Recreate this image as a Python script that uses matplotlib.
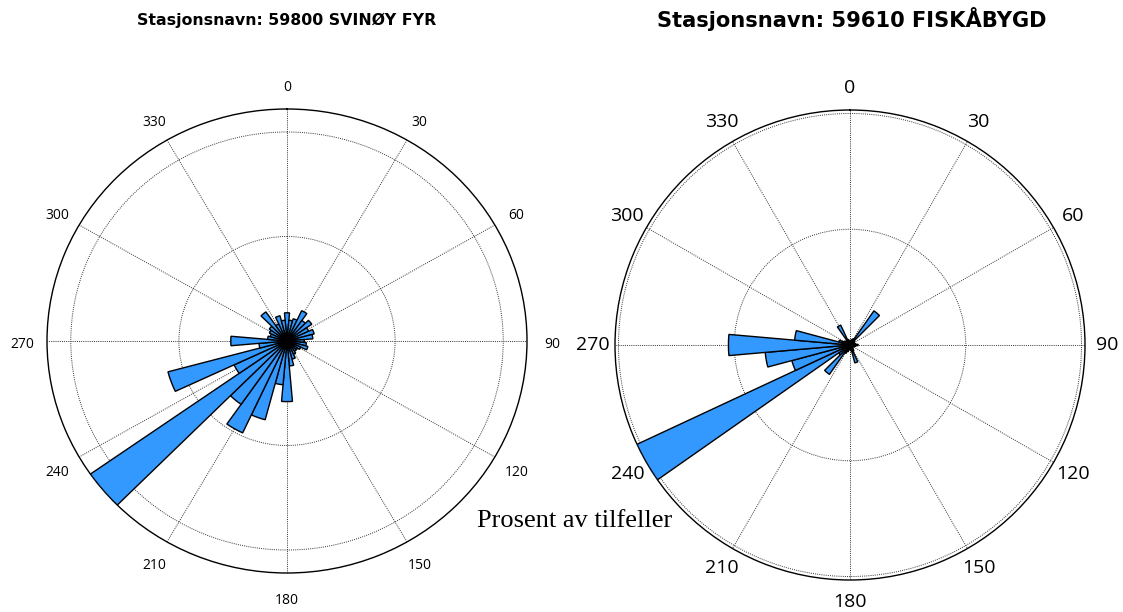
import numpy as np
import matplotlib
matplotlib.use("Agg")
import matplotlib.pyplot as plt
from matplotlib.transforms import offset_copy

# Wind direction sectors (degrees, bin centres) and share of observations (%)
directions = np.arange(0, 360, 10)

svinoy_pct = [1.35, 1.0, 1.1, 1.6, 1.2, 1.4, 1.1, 1.3, 1.2, 0.8,
              0.9, 1.0, 0.7, 0.6, 0.6, 0.7, 0.9, 1.2, 2.9, 2.1,
              3.9, 4.85, 3.7, 11.1, 2.7, 5.7, 1.3, 2.6, 0.9, 0.8,
              0.9, 1.0, 1.7, 0.9, 1.25, 1.0]

fiskaabygd_pct = [0.3, 0.4, 0.5, 0.6, 3.6, 0.5, 0.4, 0.4, 0.5, 0.7,
                  0.5, 0.4, 0.3, 0.3, 0.4, 0.6, 1.6, 0.5, 0.4, 0.4,
                  0.6, 0.8, 3.1, 1.2, 20.3, 5.2, 7.35, 10.5, 4.8, 1.0,
                  0.6, 0.5, 0.4, 1.9, 0.5, 0.4]

title_left = "Stasjonsnavn: 59800 SVINØY FYR"
title_right = "Stasjonsnavn: 59610 FISKÅBYGD"
angle_ticks = np.arange(0, 360, 30)
angle_labels = [str(a) for a in angle_ticks]
rings_left = [5, 10]
rings_right = [10, 20]
axis_label = "Prosent av tilfeller"

BAR_COLOR = "#3399ff"

W, H = 1123, 612
fig = plt.figure(figsize=(W / 100, H / 100), dpi=100)


def rose(rect, values, rings, label_size, label_r, label_dy):
    ax = fig.add_axes(rect, projection="polar")
    ax.set_aspect("auto")
    ax.set_theta_zero_location("N")
    ax.set_theta_direction(-1)
    theta = np.deg2rad(directions)
    ax.bar(theta, values, width=np.deg2rad(10), align="center",
           color=BAR_COLOR, edgecolor="black", linewidth=1.0, zorder=3)
    rmax = max(values)
    ax.set_ylim(0, rmax)
    ax.set_yticks(rings)
    ax.set_yticklabels([])
    ax.set_xticks(np.deg2rad(angle_ticks))
    ax.set_xticklabels([])
    ax.tick_params(axis="x", length=0)
    label_tr = offset_copy(ax.transData, fig=fig, x=0, y=label_dy, units="dots")
    for a, lab in zip(angle_ticks, angle_labels):
        ax.text(np.deg2rad(a), rmax * label_r, lab, ha="center", va="center",
                fontsize=label_size, family="Open Sans", clip_on=False,
                transform=label_tr)
    ax.grid(True, linestyle=(0, (1, 1.2)), color="#333333", linewidth=0.7)
    ax.spines["polar"].set_linewidth(1.0)
    ax.spines["polar"].set_color("black")
    return ax


def rect_for(cx, cy, rx, ry):
    return [(cx - rx) / W, (H - cy - ry) / H, 2 * rx / W, 2 * ry / H]


rose(rect_for(287, 341, 240, 232), svinoy_pct, rings_left, 10, 1.104, -3)
rose(rect_for(850, 345, 235, 235), fiskaabygd_pct, rings_right, 14, 1.094, 0)

fig.text(287 / W, 1 - 20 / H, title_left, ha="center", va="center",
         fontsize=11.3, fontweight="bold", family="DejaVu Sans")
fig.text(852 / W, 1 - 19 / H, title_right, ha="center", va="center",
         fontsize=15.1, fontweight="bold", family="DejaVu Sans")
fig.text(575 / W, 1 - 521 / H, axis_label, ha="center", va="center",
         fontsize=19, family="Liberation Serif")

fig.savefig("out.png", dpi=100)
